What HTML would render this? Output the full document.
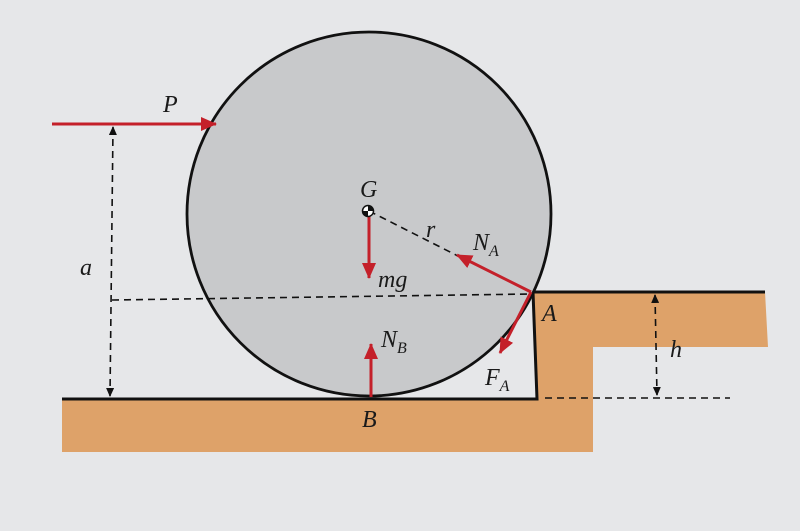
<!DOCTYPE html>
<html><head><meta charset="utf-8"><style>
html,body{margin:0;padding:0;background:#e6e7e9;}
svg{display:block}
text{font-family:"Liberation Serif",serif;font-style:italic;fill:#1a1a1a}
</style></head><body>
<svg width="800" height="531" viewBox="0 0 800 531" xmlns="http://www.w3.org/2000/svg">
<defs>
<marker id="ra" markerWidth="16" markerHeight="14" refX="15" refY="7" orient="auto" markerUnits="userSpaceOnUse" viewBox="0 0 16 14"><path d="M0,0 L16,7 L0,14 z" fill="#c4202a"/></marker>
<marker id="ka" markerWidth="9" markerHeight="8" refX="8" refY="4" orient="auto-start-reverse" markerUnits="userSpaceOnUse" viewBox="0 0 9 8"><path d="M0,0 L9,4 L0,8 z" fill="#111"/></marker>
</defs>
<rect width="800" height="531" fill="#e6e7e9"/>
<polygon points="62,399 536,399 533,292 765,292 768,347 593,347 593,452 62,452" fill="#dea269"/>
<polyline points="62,399 537,399 533,292 765,292" fill="none" stroke="#111" stroke-width="3"/>
<circle cx="369" cy="214" r="182" fill="#c8c9cb" stroke="#111" stroke-width="2.8"/>
<g stroke="#111" stroke-width="1.6" stroke-dasharray="7,5" fill="none">
<line x1="112" y1="300" x2="530" y2="294"/>
<line x1="545" y1="398" x2="730" y2="398"/>
<line x1="369" y1="211" x2="458" y2="256"/>
<line x1="113" y1="127" x2="110" y2="396" marker-start="url(#ka)" marker-end="url(#ka)"/>
<line x1="655" y1="295" x2="657" y2="395" marker-start="url(#ka)" marker-end="url(#ka)"/>
</g>
<g stroke="#c4202a" stroke-width="3" fill="none">
<line x1="52" y1="124" x2="216" y2="124" marker-end="url(#ra)"/>
<line x1="369" y1="215" x2="369" y2="278" marker-end="url(#ra)"/>
<line x1="531" y1="292" x2="457" y2="255" marker-end="url(#ra)"/>
<line x1="531" y1="292" x2="500" y2="353" marker-end="url(#ra)"/>
<line x1="371" y1="397" x2="371" y2="344" marker-end="url(#ra)"/>
</g>
<circle cx="368" cy="211" r="5.5" fill="#fff" stroke="#111" stroke-width="1.5"/>
<path d="M368,211 L368,205.5 A5.5,5.5 0 0 1 373.5,211 Z" fill="#111"/>
<path d="M368,211 L368,216.5 A5.5,5.5 0 0 1 362.5,211 Z" fill="#111"/>
<g font-size="24">
<text x="163" y="112">P</text>
<text x="360" y="197">G</text>
<text x="426" y="237">r</text>
<text x="473" y="250">N<tspan font-size="16" dy="6">A</tspan></text>
<text x="378" y="287">mg</text>
<text x="80" y="275">a</text>
<text x="542" y="321">A</text>
<text x="670" y="357">h</text>
<text x="381" y="347">N<tspan font-size="16" dy="6">B</tspan></text>
<text x="485" y="385">F<tspan font-size="16" dy="6">A</tspan></text>
<text x="362" y="427">B</text>
</g>
</svg>
</body></html>
